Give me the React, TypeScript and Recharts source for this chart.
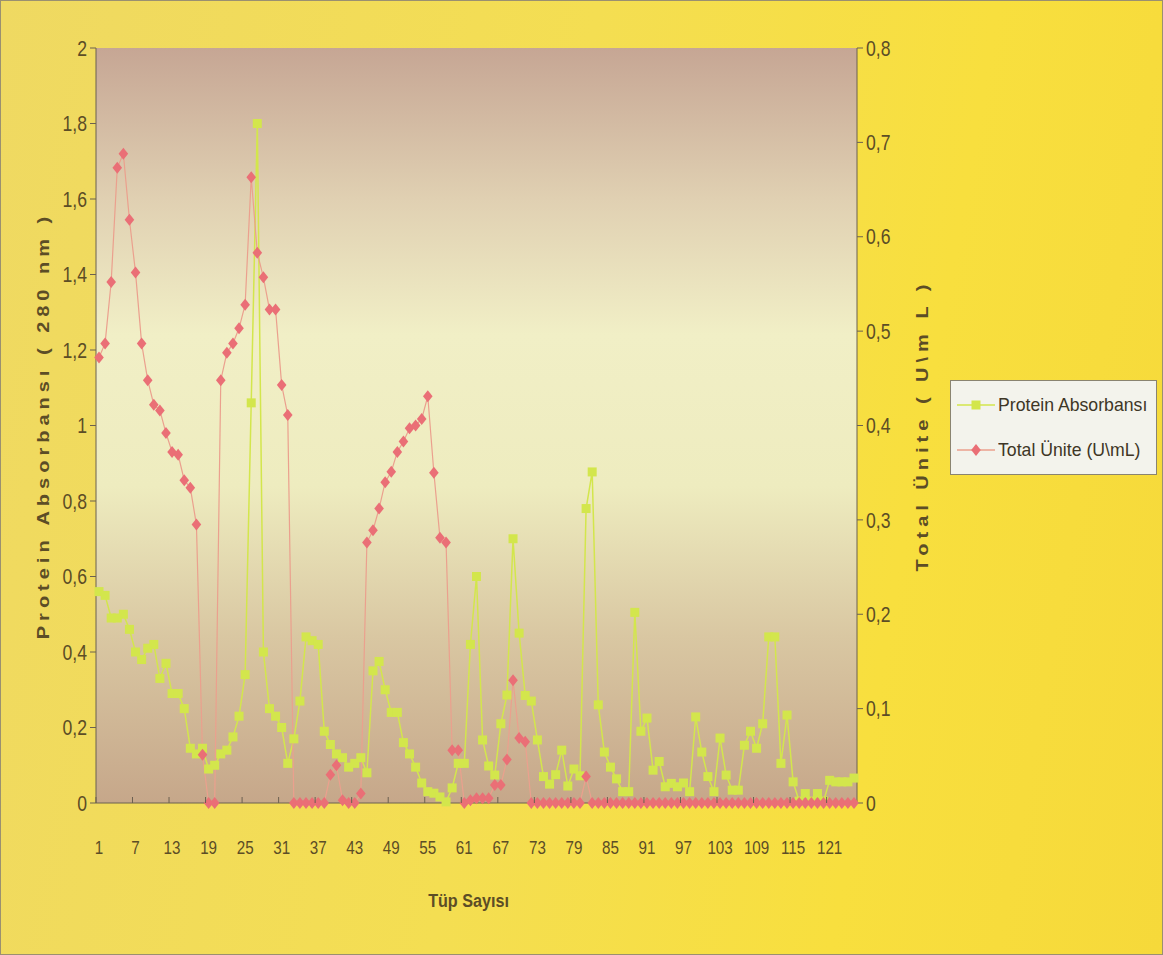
import { LineChart, Line, XAxis, YAxis, CartesianGrid } from "recharts";

// tube numbers 1..125
const tubes = Array.from({ length: 125 }, (_, i) => String(i + 1));

// Protein Absorbansı (280 nm) — left axis
const protein = [
  0.56, 0.55, 0.49, 0.49, 0.5, 0.46, 0.4, 0.38, 0.41, 0.42,
  0.33, 0.37, 0.29, 0.29, 0.25, 0.145, 0.13, 0.145, 0.09, 0.1,
  0.13, 0.14, 0.175, 0.23, 0.34, 1.06, 1.8, 0.4, 0.25, 0.23,
  0.2, 0.105, 0.17, 0.27, 0.44, 0.43, 0.42, 0.19, 0.155, 0.13,
  0.12, 0.095, 0.105, 0.12, 0.08, 0.35, 0.375, 0.3, 0.24, 0.24,
  0.16, 0.13, 0.095, 0.053, 0.03, 0.026, 0.016, 0.003, 0.04, 0.105,
  0.105, 0.42, 0.6, 0.167, 0.098, 0.074, 0.21, 0.286, 0.7, 0.45,
  0.285, 0.27, 0.167, 0.07, 0.05, 0.075, 0.14, 0.045, 0.09, 0.072,
  0.78, 0.877, 0.26, 0.135, 0.095, 0.064, 0.03, 0.03, 0.505, 0.19,
  0.225, 0.087, 0.11, 0.043, 0.052, 0.043, 0.053, 0.03, 0.228, 0.135,
  0.07, 0.03, 0.172, 0.074, 0.034, 0.034, 0.153, 0.19, 0.145, 0.21,
  0.44, 0.44, 0.105, 0.233, 0.056, 0.005, 0.025, 0.005, 0.025, 0.005,
  0.06, 0.056, 0.056, 0.056, 0.066,
];

// Total Ünite (U\mL) — right axis
const units = [
  0.472, 0.487, 0.552, 0.673, 0.688, 0.618, 0.562, 0.487, 0.448, 0.422,
  0.416, 0.392, 0.372, 0.369, 0.342, 0.334, 0.295, 0.051, 0, 0,
  0.448, 0.477, 0.487, 0.503, 0.528, 0.663, 0.583, 0.557, 0.523, 0.523,
  0.443, 0.411, 0, 0, 0, 0, 0, 0, 0.03, 0.04,
  0.003, 0, 0, 0.01, 0.276, 0.289, 0.312, 0.34, 0.351, 0.372,
  0.383, 0.397, 0.4, 0.407, 0.431, 0.35, 0.281, 0.276, 0.056, 0.056,
  0, 0.003, 0.005, 0.005, 0.005, 0.019, 0.019, 0.046, 0.13, 0.069,
  0.065, 0, 0, 0, 0, 0, 0, 0, 0, 0,
  0.028, 0, 0, 0, 0, 0, 0, 0, 0, 0,
  0, 0, 0, 0, 0, 0, 0, 0, 0, 0,
  0, 0, 0, 0, 0, 0, 0, 0, 0, 0,
  0, 0, 0, 0, 0, 0, 0, 0, 0, 0,
  0, 0, 0, 0, 0,
];

const leftTicks = [0, 0.2, 0.4, 0.6, 0.8, 1, 1.2, 1.4, 1.6, 1.8, 2];
const rightTicks = [0, 0.1, 0.2, 0.3, 0.4, 0.5, 0.6, 0.7, 0.8];

const data = tubes.map((t, i) => ({ tube: t, protein: protein[i], units: units[i] }));

const GREEN = "#d3e64c";
const RED = "#ea6f76";
const RED_LINE = "#eba08e";
const TEXT = "#5c4d26";
const AXIS = "#6b6050";
const FONT = "'Liberation Sans', Arial, sans-serif";

const comma = (v: number) => String(v).replace(".", ",");

const Square = (p: any) => {
  if (p.cx == null || p.cy == null) return <g key={p.key} />;
  return <rect key={p.key} x={p.cx - 4.5} y={p.cy - 4.5} width={9} height={9} fill={GREEN} />;
};

const Diamond = (p: any) => {
  if (p.cx == null || p.cy == null) return <g key={p.key} />;
  const { cx, cy } = p;
  return (
    <polygon
      key={p.key}
      points={`${cx},${cy - 6} ${cx + 4.8},${cy} ${cx},${cy + 6} ${cx - 4.8},${cy}`}
      fill={RED}
    />
  );
};

// narrow-looking labels: squeeze regular sans horizontally
const NarrowText = ({ x, y, anchor, size, children }: any) => (
  <text
    transform={`translate(${x}, ${y}) scale(0.8, 1)`}
    x={0}
    y={0}
    textAnchor={anchor}
    dominantBaseline="central"
    fill={TEXT}
    fontSize={size}
    fontFamily={FONT}
  >
    {children}
  </text>
);

const XTick = (p: any) => {
  const axisY = p.y - 35;
  const bx = p.x - 3.04;
  return (
    <g>
      <line x1={bx} x2={bx} y1={axisY - 6} y2={axisY} stroke={AXIS} />
      <NarrowText x={p.x} y={p.y + 9} anchor="middle" size={19}>
        {p.payload.value}
      </NarrowText>
    </g>
  );
};

const LeftTick = (p: any) => (
  <NarrowText x={p.x} y={p.y} anchor="end" size={22}>
    {comma(p.payload.value)}
  </NarrowText>
);

const RightTick = (p: any) => (
  <NarrowText x={p.x} y={p.y} anchor="start" size={22}>
    {comma(p.payload.value)}
  </NarrowText>
);

const axisTitle = (text: string, dxFromAxis: number) => (p: any) => {
  const x = p.viewBox.x + dxFromAxis;
  const y = p.viewBox.y + p.viewBox.height / 2;
  return (
    <text
      transform={`translate(${x}, ${y}) rotate(-90) scale(1, 0.85)`}
      x={0}
      y={0}
      textAnchor="middle"
      dominantBaseline="central"
      fill={TEXT}
      fontSize={20}
      fontWeight="bold"
      fontFamily={FONT}
      letterSpacing={5}
    >
      {text}
    </text>
  );
};

export default function App() {
  return (
    <div
      style={{
        position: "absolute",
        left: 0,
        top: 0,
        width: 1163,
        height: 955,
        boxSizing: "border-box",
        border: "1px solid #9a9070",
        background: "linear-gradient(100deg, #efd962 0%, #f4de52 45%, #f8df3e 75%, #f6d93a 100%)",
      }}
    >
      <LineChart width={1161} height={953} data={data} margin={{ top: 47, right: 215, bottom: 41, left: 5 }}>
        <defs>
          <linearGradient id="plotBg" x1="0" x2="0" y1="0" y2="1">
            <stop offset="0%" stopColor="#c6a694" />
            <stop offset="20%" stopColor="#e0d0b2" />
            <stop offset="38%" stopColor="#f1efc6" />
            <stop offset="58%" stopColor="#eeecbf" />
            <stop offset="78%" stopColor="#d9c7a2" />
            <stop offset="100%" stopColor="#c6a78a" />
          </linearGradient>
        </defs>
        <CartesianGrid horizontal={false} vertical={false} fill="url(#plotBg)" />
        <XAxis
          dataKey="tube"
          interval={5}
          height={110}
          padding={{ left: 3, right: 3 }}
          tickSize={0}
          tickMargin={35}
          tick={<XTick />}
          stroke={AXIS}
          label={{
            content: (p: any) => (
              <text
                transform={`translate(${p.viewBox.x + p.viewBox.width / 2 - 8}, ${p.viewBox.y + 98}) scale(0.85, 1)`}
                x={0}
                y={0}
                textAnchor="middle"
                dominantBaseline="central"
                fill={TEXT}
                fontSize={19}
                fontWeight="bold"
                fontFamily={FONT}
              >
                Tüp Sayısı
              </text>
            ),
          }}
        />
        <YAxis
          yAxisId="left"
          width={90}
          domain={[0, 2]}
          ticks={leftTicks}
          tickSize={6}
          tickMargin={3}
          stroke={AXIS}
          tick={<LeftTick />}
          label={{ content: axisTitle("Protein Absorbansı ( 280 nm )", 37) }}
        />
        <YAxis
          yAxisId="right"
          orientation="right"
          width={90}
          domain={[0, 0.8]}
          ticks={rightTicks}
          tickSize={6}
          tickMargin={3}
          stroke={AXIS}
          tick={<RightTick />}
          label={{ content: axisTitle("Total Ünite ( U\\m L )", 65) }}
        />
        <Line
          yAxisId="left"
          dataKey="protein"
          name="Protein Absorbansı"
          stroke={GREEN}
          strokeWidth={1.5}
          dot={Square}
          activeDot={false}
          isAnimationActive={false}
        />
        <Line
          yAxisId="right"
          dataKey="units"
          name="Total Ünite (U\mL)"
          stroke={RED_LINE}
          strokeWidth={1.2}
          dot={Diamond}
          activeDot={false}
          isAnimationActive={false}
        />
      </LineChart>
      <div
        style={{
          position: "absolute",
          left: 949,
          top: 379,
          width: 207,
          height: 95,
          boxSizing: "border-box",
          background: "#f3f3ec",
          border: "1px solid #8a8470",
          fontFamily: FONT,
          fontSize: 19,
          color: "#3e3626",
        }}
      >
        {[
          { name: "Protein Absorbansı", color: GREEN, line: GREEN, shape: "square" },
          { name: "Total Ünite (U\\mL)", color: RED, line: RED_LINE, shape: "diamond" },
        ].map((s, i) => (
          <div
            key={s.name}
            style={{ position: "absolute", left: 6, top: 13 + i * 45, display: "flex", alignItems: "center", whiteSpace: "nowrap" }}
          >
            <svg width={38} height={16}>
              <line x1={0} x2={38} y1={8} y2={8} stroke={s.line} strokeWidth={1.5} />
              {s.shape === "square" ? (
                <rect x={14.5} y={3.5} width={9} height={9} fill={s.color} />
              ) : (
                <polygon points="19,2 23.8,8 19,14 14.2,8" fill={s.color} />
              )}
            </svg>
            <span style={{ marginLeft: 3, display: "inline-block", transform: "scaleX(0.93)", transformOrigin: "left center" }}>
              {s.name}
            </span>
          </div>
        ))}
      </div>
    </div>
  );
}
